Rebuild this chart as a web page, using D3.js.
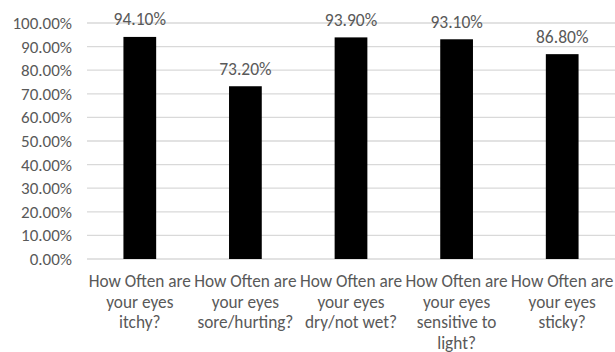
<!DOCTYPE html>
<html><head><meta charset="utf-8">
<script src="https://cdn.jsdelivr.net/npm/d3@7"></script>
<style>
body{margin:0;background:#fff;}
text{font-family:Carlito,Lato,"Open Sans",sans-serif;fill:#595959;}
</style></head>
<body><svg id="c" width="615" height="352"></svg>
<script>
const categories = [
  ["How Often are","your eyes","itchy?"],
  ["How Often are","your eyes","sore/hurting?"],
  ["How Often are","your eyes","dry/not wet?"],
  ["How Often are","your eyes","sensitive to","light?"],
  ["How Often are","your eyes","sticky?"]
];
const values = [94.1, 73.2, 93.9, 93.1, 86.8];
const yTicks = [0,10,20,30,40,50,60,70,80,90,100];

(function(){
const svg = d3.select("#c");
const mLeft = 87, mRight = 615, mTop = 23, mBottom = 259;
const x = d3.scaleBand().domain(d3.range(values.length)).range([mLeft, mRight]).paddingInner(0.69).paddingOuter(0.345);
const y = d3.scaleLinear().domain([0,100]).range([mBottom, mTop]);

svg.append("g").selectAll("line").data(yTicks).join("line")
  .attr("x1", mLeft).attr("x2", mRight)
  .attr("y1", d=>y(d)).attr("y2", d=>y(d))
  .attr("stroke", "#d9d9d9").attr("stroke-width", 1.3);

const yAxis = d3.axisLeft(y).tickValues(yTicks).tickFormat(d=>d.toFixed(2)+"%").tickSize(0).tickPadding(15);
const ga = svg.append("g").attr("transform", `translate(${mLeft},0)`).call(yAxis);
ga.select(".domain").remove();
ga.selectAll("text").style("font-size","17px").style("font-family","Carlito,Lato,'Open Sans',sans-serif").attr("fill","#595959");

svg.append("g").selectAll("rect").data(values).join("rect")
  .attr("x",(d,i)=>x(i)).attr("width",x.bandwidth())
  .attr("y",d=>y(d)).attr("height",d=>y(0)-y(d))
  .attr("fill","#000");

svg.append("g").selectAll("text").data(values).join("text")
  .attr("x",(d,i)=>x(i)+x.bandwidth()/2).attr("y",d=>y(d)-11.5)
  .attr("text-anchor","middle").style("font-size","17.5px")
  .text(d=>d.toFixed(2)+"%");

const cg = svg.append("g").selectAll("text").data(categories).join("text")
  .attr("x",(d,i)=>x(i)+x.bandwidth()/2).attr("y",287.3)
  .attr("text-anchor","middle").style("font-size","17.3px");
cg.selectAll("tspan").data(d=>d).join("tspan")
  .attr("x",function(){return this.parentNode.getAttribute("x");})
  .attr("dy",(d,i)=>i===0?0:20.5).text(d=>d);
})();
</script></body></html>
